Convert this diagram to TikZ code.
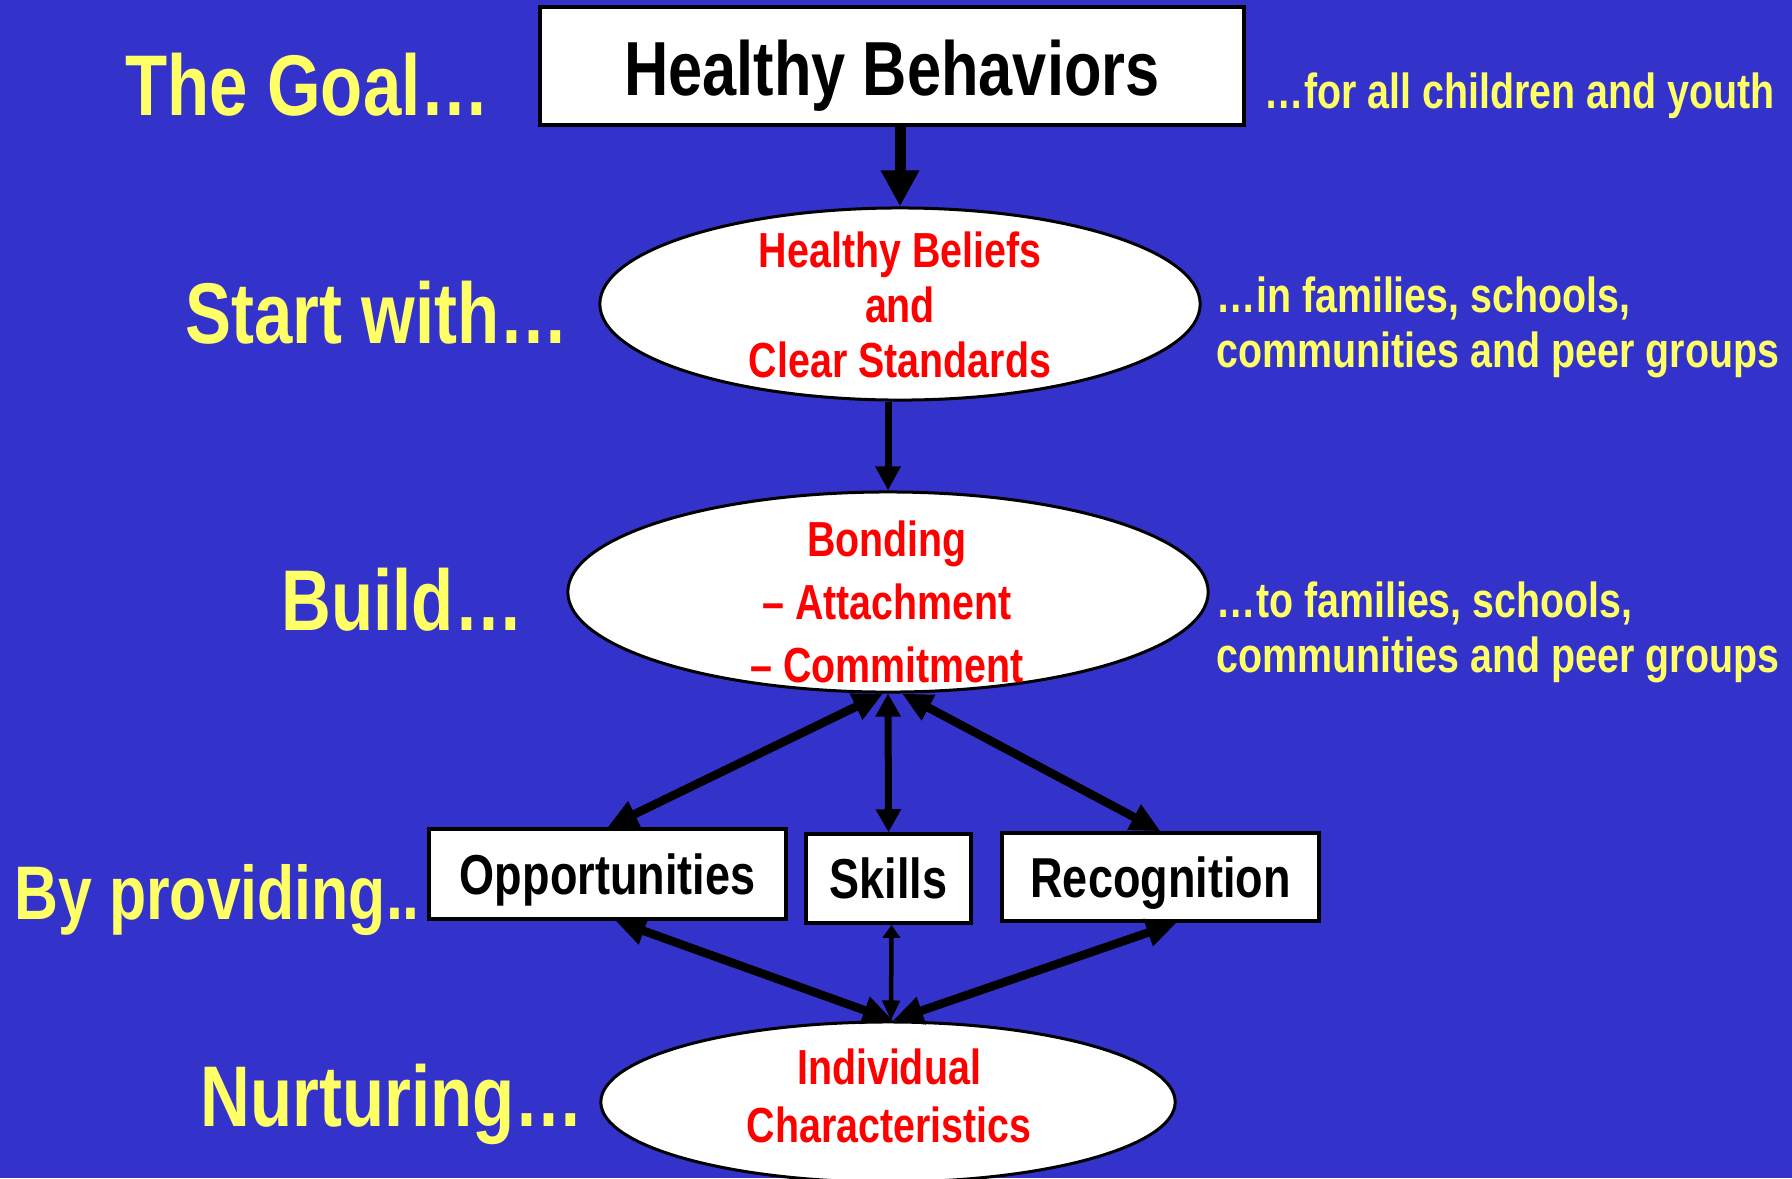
\documentclass[tikz,border=0pt]{standalone}
\usepackage{fontspec}
\newfontfamily\narrowfont{Liberation Sans}[FakeStretch=0.8]
\usetikzlibrary{arrows.meta,shapes.geometric,calc}
\definecolor{bgblue}{RGB}{51,51,204}
\definecolor{ylw}{RGB}{255,255,102}
\definecolor{rd}{RGB}{255,0,0}
\begin{document}
\begin{tikzpicture}[x=0.01cm,y=-0.01cm,
  lbl/.style={text=ylw, inner sep=0pt, anchor=base west,
    font=\narrowfont\bfseries\fontsize{24.5pt}{28pt}\selectfont},
  rlbl/.style={text=ylw, inner sep=0pt, align=left,
    font=\narrowfont\bfseries\fontsize{14pt}{15.65pt}\selectfont},
  box/.style={draw=black, fill=white, rectangle, inner sep=0pt, line width=0.035cm,
    text height=0.40cm, text depth=0cm,
    font=\narrowfont\bfseries\fontsize{16pt}{18pt}\selectfont},
  ell/.style={draw=black, fill=white, ellipse, inner sep=0pt, line width=0.03cm},
  redtxt/.style={text=rd, inner sep=0pt, align=center,
    font=\narrowfont\bfseries\fontsize{14pt}{15.65pt}\selectfont},
  bigarrow/.style={line width=0.11cm, -{Triangle[width=0.36cm,length=0.36cm]}},
  midarrow/.style={line width=0.07cm, -{Triangle[width=0.24cm,length=0.24cm]}},
  dblarrow/.style={line width=0.085cm, {Triangle[width=0.27cm,length=0.30cm]}-{Triangle[width=0.27cm,length=0.30cm]}},
  dblmid/.style={line width=0.07cm, {Triangle[width=0.24cm,length=0.23cm]}-{Triangle[width=0.24cm,length=0.23cm]}},
  dblthin/.style={line width=0.045cm, {Triangle[width=0.17cm,length=0.13cm]}-{Triangle[width=0.17cm,length=0.2cm]}}
]
\fill[bgblue] (0,0) rectangle (1792,1178);
\useasboundingbox (0,0) rectangle (1792,1178);

% main nodes
\node[box, line width=0.045cm, minimum width=7.04cm, minimum height=1.18cm,
      text height=0.58cm, font=\narrowfont\bfseries\fontsize{21.8pt}{24pt}\selectfont]
      (hb) at (892,66) {Healthy Behaviors};
\node[ell, minimum width=6.00cm, minimum height=1.92cm] (ell1) at (900,304) {};
\node[redtxt] (ell1t) at (900,305) {Healthy Beliefs\\and\\Clear Standards};
\node[ell, minimum width=6.40cm, minimum height=2.00cm] (ell2) at (888,592) {};
\node[redtxt, font=\narrowfont\bfseries\fontsize{14pt}{17.9pt}\selectfont] (ell2t) at (887,602)
      {Bonding\\– Attachment\\– Commitment};
\node[box, minimum width=3.57cm, minimum height=0.90cm] (opp) at (607.5,874) {Opportunities};
\node[box, minimum width=1.65cm, minimum height=0.89cm] (skl) at (888.5,878.5) {Skills};
\node[box, minimum width=3.17cm, minimum height=0.88cm] (rec) at (1160.5,877) {Recognition};
\node[ell, minimum width=5.74cm, minimum height=1.60cm] (ell3) at (888,1102) {};
\node[redtxt, font=\narrowfont\bfseries\fontsize{14pt}{16.5pt}\selectfont] (ell3t) at (889,1096)
      {Individual\\Characteristics};

% left labels
\node[lbl] (l1) at (125,115) {The Goal…};
\node[lbl] (l2) at (185,343) {Start with…};
\node[lbl] (l3) at (281,630) {Build…};
\node[lbl, font=\narrowfont\bfseries\fontsize{21.6pt}{25pt}\selectfont] (l4) at (14,919) {By providing..};
\node[lbl] (l5) at (200,1126) {Nurturing…};

% right labels
\node[rlbl, anchor=base west] (r1) at (1264,108) {…for all children and youth};
\node[rlbl, anchor=west] (r2) at (1216,327) {…in families, schools,\\communities and peer groups};
\node[rlbl, anchor=west] (r3) at (1216,632) {…to families, schools,\\communities and peer groups};

% connectors
\draw[bigarrow] (hb.south -| ell1.north) -- (ell1.north);
\draw[midarrow] (ell1.south -| ell2.north) -- (ell2.north);
\draw[dblarrow] ($(ell2.south)+(-5,0)$) -- (opp.north);
\draw[dblmid] (ell2.south) -- (skl.north);
\draw[dblarrow] ($(ell2.south)+(14,0)$) -- (rec.north);
\draw[dblarrow] ($(opp.south)+(8,0)$) -- ($(ell3.north)+(5,0)$);
\draw[dblthin] ($(skl.south)+(3,0)$) -- ($(ell3.north)+(3,0)$);
\draw[dblarrow] ($(rec.south)+(16,0)$) -- ($(ell3.north)+(5,0)$);
\end{tikzpicture}
\end{document}
